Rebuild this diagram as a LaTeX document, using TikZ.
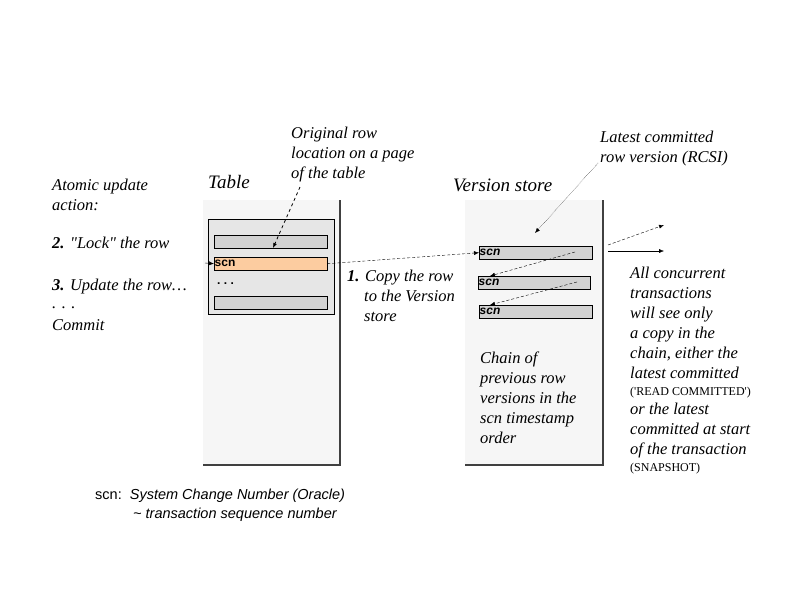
\documentclass[tikz,border=0pt]{standalone}
\usepackage{fontspec}
\setmainfont{Liberation Serif}[Ligatures=TeXOff]
\setsansfont{Liberation Sans}
\usetikzlibrary{arrows.meta}

\definecolor{panelgray}{RGB}{246,246,246}
\definecolor{pagegray}{RGB}{230,230,230}
\definecolor{rowgray}{RGB}{210,210,210}
\definecolor{scnorange}{RGB}{252,204,160}

\tikzset{
  txt/.style={anchor=north west, inner sep=0pt, align=left,
    font=\fontsize{16.5}{20}\selectfont\itshape},
  title/.style={anchor=west, inner sep=0pt, font=\fontsize{19}{22}\selectfont\itshape},
  rowbox/.style={draw, fill=rowgray, anchor=north west, minimum height=13pt,
    inner sep=0.5pt, text width=#1, align=left,
    font=\fontsize{12}{12}\selectfont\sffamily\bfseries},
  tip/.style={-{Latex[length=5pt,width=4pt]}},
}

\begin{document}
\begin{tikzpicture}[x=1pt, y=-1pt]
  \useasboundingbox (0,0) rectangle (800,600);

  % Panneaux de fond (table et version store).
  \fill[panelgray] (203,200) rectangle (340,465);
  \fill[panelgray] (465,200) rectangle (603,465);
  \draw[line width=1.4pt, black!75] (340,200) -- (340,465) -- (203,465);
  \draw[line width=1.4pt, black!75] (603,200) -- (603,465) -- (465,465);
  \node[title] (tabletitle) at (208,182) {Table};
  \node[title] (storetitle) at (453,185) {Version store};

  % Page de la table avec ses lignes.
  \draw[fill=pagegray] (208,219) rectangle (334,314);
  \node[rowbox=112pt] (row1) at (214,235) {};
  \node[rowbox=112pt, fill=scnorange] (rowscn) at (214,257) {scn};
  \node[anchor=base west, inner sep=0pt, font=\fontsize{12}{12}\selectfont\sffamily\bfseries] (dots) at (217,284) {.\ .\ .};
  \node[rowbox=112pt] (row3) at (214,296) {};

  % Chaine des versions.
  \node[rowbox=112pt, font=\fontsize{12}{12}\selectfont\sffamily\bfseries\itshape] (ver1) at (479,246) {scn};
  \node[rowbox=111pt, font=\fontsize{12}{12}\selectfont\sffamily\bfseries\itshape] (ver2) at (478,276) {scn};
  \node[rowbox=112pt, font=\fontsize{12}{12}\selectfont\sffamily\bfseries\itshape] (ver3) at (479,305) {scn};

  % Textes a gauche.
  \node[txt] (atomic) at (52,179) {Atomic update\\action:};
  \node[txt] (lock) at (52,237) {\textbf{2.} "Lock" the row};
  \node[txt] (update) at (52,279) {\textbf{3.} Update the row\ldots};
  \node[anchor=base west, inner sep=0pt, font=\fontsize{16.5}{20}\selectfont\itshape] (etc) at (52,308) {. . .};
  \node[txt] (commit) at (52,319) {Commit};

  % Textes du haut et de droite.
  \node[txt] (origin) at (291,127) {Original row\\location on a page\\of the table};
  \node[txt] (copy) at (347,270) {\textbf{1.} Copy the row\\\hspace*{17pt}to the Version\\\hspace*{17pt}store};
  \node[txt] (latest) at (600,131) {Latest committed\\row version (RCSI)};
  \node[txt] (chain) at (480,352) {Chain of\\previous row\\versions in the\\scn timestamp\\order};
  \node[txt] (readers) at (630,267) {All concurrent\\transactions\\will see only\\a copy in the\\chain, either the\\latest committed\\[-3pt]
    {\fontsize{12}{12}\selectfont\upshape ('READ COMMITTED')}\\[-1pt]or the latest\\committed at start\\of the transaction\\[-3pt]
    {\fontsize{12}{12}\selectfont\upshape (SNAPSHOT)}};

  % Note en bas.
  \node[anchor=west, inner sep=0pt, font=\fontsize{14.5}{16}\selectfont\sffamily] (note) at (95,496)
    {scn:\ \ \itshape System Change Number (Oracle)};
  \node[anchor=west, inner sep=0pt, font=\fontsize{14.5}{16}\selectfont\sffamily\itshape] (note2) at (133,515)
    {\textasciitilde\ transaction sequence number};

  % Fleches.
  \coordinate (origtail) at (300,187);
  \coordinate (origtip) at (273,248);
  \draw[tip, dashed, thick] (origtail) -- (origtip);
  \coordinate (lockin) at (205,263);
  \draw[tip] (lockin) -- (rowscn.west);
  \draw[tip, densely dashed, thin] (rowscn.east) -- (ver1.west);
  \coordinate (latesttail) at (598,163);
  \coordinate (latesttip) at (535,233);
  \draw[tip, densely dotted] (latesttail) -- (latesttip);
  \coordinate (c1a) at (575,252);
  \coordinate (c1b) at (490,276);
  \coordinate (c2a) at (577,282);
  \coordinate (c2b) at (490,305);
  \draw[tip, densely dashed] (c1a) -- (c1b);
  \draw[tip, densely dashed] (c2a) -- (c2b);
  \coordinate (out0) at (608,245);
  \coordinate (out1) at (664,225);
  \coordinate (out2a) at (608,251);
  \coordinate (out2) at (664,251);
  \draw[tip, densely dashed] (out0) -- (out1);
  \draw[tip] (out2a) -- (out2);
\end{tikzpicture}
\end{document}
